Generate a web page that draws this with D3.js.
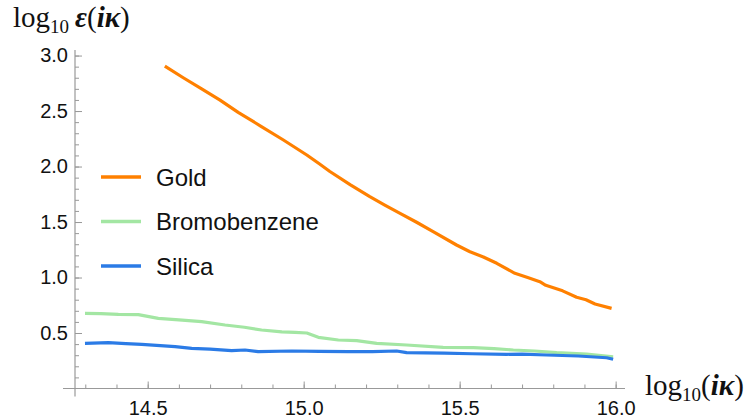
<!DOCTYPE html>
<html>
<head>
<meta charset="utf-8">
<script src="https://cdn.jsdelivr.net/npm/d3@7"></script>
<style>
  body { margin: 0; background: #fff; }
  svg { display: block; }
</style>
</head>
<body>
<svg></svg>
<script>
var width = 747;
var height = 419;

var goldX = [14.555, 14.614, 14.673, 14.732, 14.790, 14.862, 14.935, 15.010, 15.050, 15.084, 15.150, 15.212, 15.260, 15.309, 15.362, 15.415, 15.490, 15.533, 15.576, 15.619, 15.677, 15.718, 15.757, 15.776, 15.830, 15.875, 15.905, 15.934, 15.987];
var goldY = [2.905, 2.800, 2.700, 2.599, 2.488, 2.365, 2.239, 2.104, 2.025, 1.955, 1.835, 1.728, 1.652, 1.578, 1.498, 1.413, 1.293, 1.232, 1.185, 1.128, 1.038, 1.000, 0.962, 0.930, 0.880, 0.822, 0.800, 0.761, 0.722];

var bromoX = [14.299, 14.350, 14.406, 14.470, 14.534, 14.600, 14.673, 14.748, 14.810, 14.865, 14.930, 14.972, 15.010, 15.047, 15.111, 15.170, 15.234, 15.330, 15.447, 15.544, 15.610, 15.672, 15.740, 15.811, 15.907, 15.992];
var bromoY = [0.677, 0.675, 0.668, 0.665, 0.632, 0.618, 0.602, 0.572, 0.552, 0.527, 0.510, 0.506, 0.500, 0.461, 0.437, 0.432, 0.407, 0.392, 0.371, 0.368, 0.360, 0.347, 0.338, 0.323, 0.311, 0.286];

var silicaX = [14.299, 14.374, 14.430, 14.481, 14.588, 14.641, 14.700, 14.769, 14.812, 14.854, 14.962, 15.050, 15.143, 15.220, 15.298, 15.330, 15.450, 15.540, 15.651, 15.700, 15.779, 15.880, 15.971, 15.992];
var silicaY = [0.407, 0.413, 0.405, 0.398, 0.377, 0.362, 0.355, 0.341, 0.347, 0.332, 0.338, 0.334, 0.332, 0.333, 0.338, 0.323, 0.318, 0.313, 0.308, 0.310, 0.302, 0.293, 0.277, 0.263];

var seriesNames = ['Gold', 'Bromobenzene', 'Silica'];
var seriesColors = ['#ff8000', '#a3e6a3', '#2b7be6'];

var xMajor = [14.5, 15.0, 15.5, 16.0];
var xMinor = d3.range(14.3, 16.01, 0.1);
var yMajor = [0.5, 1.0, 1.5, 2.0, 2.5, 3.0];
var yMinor = d3.range(0.1, 3.01, 0.1);

var xScale = d3.scaleLinear()
                .domain([14.267, 16.03])
                .range([75, 625]);

var yScale = d3.scaleLinear()
                .domain([0, 3.05])
                .range([388.5, 50]);

var svg = d3.select('svg')
    .attr('width', width)
    .attr('height', height);

var axisColor = '#999';

// minor ticks
svg.append('g')
    .attr('class', 'minor')
    .attr('transform', 'translate(0,' + yScale(0) + ')')
    .call(d3.axisBottom(xScale).tickValues(xMinor).tickSize(-4).tickFormat(''));

svg.append('g')
    .attr('class', 'minor')
    .attr('transform', 'translate(' + xScale.range()[0] + ',0)')
    .call(d3.axisLeft(yScale).tickValues(yMinor).tickSize(-4).tickFormat(''));

// major ticks
var xAxis = d3.axisBottom(xScale)
              .tickValues(xMajor)
              .tickSize(-7)
              .tickPadding(12)
              .tickFormat(d3.format('.1f'));

var yAxis = d3.axisLeft(yScale)
              .tickValues(yMajor)
              .tickSize(-7)
              .tickPadding(7)
              .tickFormat(d3.format('.1f'));

svg.append('g')
    .attr('class', 'major x')
    .attr('transform', 'translate(0,' + yScale(0) + ')')
    .call(xAxis);

svg.append('g')
    .attr('class', 'major y')
    .attr('transform', 'translate(' + xScale.range()[0] + ',0)')
    .call(yAxis);

svg.selectAll('.domain').remove();
svg.selectAll('.tick line').attr('stroke', axisColor);
svg.selectAll('.tick text')
    .attr('fill', '#111')
    .style('font-family', '"Liberation Sans", Arial, sans-serif')
    .style('font-size', '20px');

// axis lines, crossing a little past each other
svg.append('line')
    .attr('x1', xScale.range()[0] - 12)
    .attr('x2', xScale.range()[1])
    .attr('y1', yScale(0))
    .attr('y2', yScale(0))
    .attr('stroke', axisColor)
    .attr('stroke-width', 1.2);

svg.append('line')
    .attr('x1', xScale.range()[0])
    .attr('x2', xScale.range()[0])
    .attr('y1', yScale.range()[1])
    .attr('y2', yScale(0) + 8)
    .attr('stroke', axisColor)
    .attr('stroke-width', 1.2);

// curves
var line = d3.line()
    .x(d => xScale(d[0]))
    .y(d => yScale(d[1]));

var seriesData = [
  d3.zip(goldX, goldY),
  d3.zip(bromoX, bromoY),
  d3.zip(silicaX, silicaY)
];

svg.append('g')
  .selectAll('path')
  .data(seriesData)
  .enter()
  .append('path')
    .attr('d', line)
    .attr('fill', 'none')
    .attr('stroke', (d, i) => seriesColors[i])
    .attr('stroke-width', 3.2)
    .attr('stroke-linejoin', 'round');

// legend
var legend = svg.append('g')
  .selectAll('g')
  .data(seriesNames)
  .enter()
  .append('g')
    .attr('transform', (d, i) => 'translate(101,' + (177 + i * 44.5) + ')');

legend.append('line')
    .attr('x1', 0)
    .attr('x2', 40)
    .attr('stroke', (d, i) => seriesColors[i])
    .attr('stroke-width', 3.6);

legend.append('text')
    .attr('x', 55)
    .attr('dy', '0.36em')
    .style('font-family', '"Liberation Sans", Arial, sans-serif')
    .style('font-size', '24px')
    .attr('fill', '#111')
    .text(d => d);

// axis labels
var labelFont = '"Liberation Serif", "Times New Roman", serif';

var yLabel = svg.append('text')
    .attr('x', 13)
    .attr('y', 27)
    .style('font-family', labelFont)
    .style('font-size', '29px')
    .attr('fill', '#111');
yLabel.append('tspan').text('log');
yLabel.append('tspan').attr('dy', 6).style('font-size', '19px').text('10');
yLabel.append('tspan').attr('dy', -6).attr('dx', 6).style('font-style', 'italic').style('font-weight', 'bold').text('ε');
yLabel.append('tspan').text('(');
yLabel.append('tspan').style('font-style', 'italic').style('font-weight', 'bold').text('iκ');
yLabel.append('tspan').text(')');

var xLabel = svg.append('text')
    .attr('x', 645)
    .attr('y', 395)
    .style('font-family', labelFont)
    .style('font-size', '29px')
    .attr('fill', '#111');
xLabel.append('tspan').text('log');
xLabel.append('tspan').attr('dy', 6).style('font-size', '19px').text('10');
xLabel.append('tspan').attr('dy', -6).text('(');
xLabel.append('tspan').style('font-style', 'italic').style('font-weight', 'bold').text('iκ');
xLabel.append('tspan').text(')');
</script>
</body>
</html>
